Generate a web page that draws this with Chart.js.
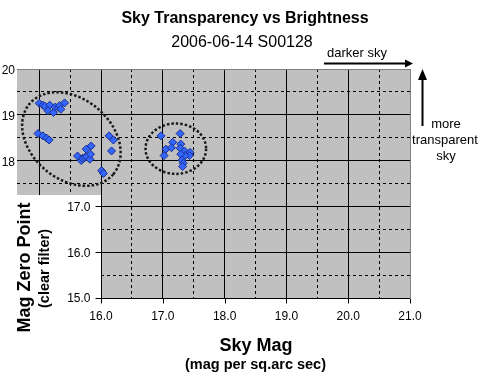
<!DOCTYPE html>
<html>
<head>
<meta charset="utf-8">
<script src="https://cdn.jsdelivr.net/npm/chart.js@4"></script>
<style>
  body { margin: 0; background: #fff; }
  canvas { display: block; }
</style>
</head>
<body>
<canvas id="skyChart" width="490" height="392"></canvas>
<script>
// sky brightness (mag / sq arcsec) and zero point for each frame
const skyMag = [
  15.00, 15.06, 15.09, 15.17, 15.14, 15.23, 15.26, 15.31, 15.33, 15.35, 15.41,
  14.98, 15.06, 15.12, 15.16,
  15.62, 15.68, 15.70, 15.74, 15.76, 15.77, 15.82, 15.83, 15.84,
  16.01, 16.04,
  16.13, 16.20, 16.17,
  16.97, 17.28, 17.16, 17.05, 17.14, 17.29, 17.02, 17.28, 17.35, 17.44,
  17.43, 17.36, 17.29, 17.31, 17.33, 17.32
];
const zeroPoint = [
  19.25, 19.21, 19.19, 19.21, 19.09, 19.05, 19.17, 19.16, 19.20, 19.12, 19.26,
  18.59, 18.54, 18.49, 18.45,
  18.10, 18.00, 18.05, 18.07, 18.25, 18.09, 18.03, 18.14, 18.32,
  17.78, 17.72,
  18.54, 18.45, 18.21,
  18.54, 18.59, 18.40, 18.25, 18.28, 18.36, 18.11, 18.27, 18.21, 18.18,
  18.11, 18.11, 18.14, 18.01, 17.94, 17.87
];

const xMajor = [15, 16, 17, 18, 19, 20, 21];
const xMinor = [15.5, 16.5, 17.5, 18.5, 19.5, 20.5];
const yMajor = [15, 16, 17, 18, 19, 20];
const yMinor = [15.5, 16.5, 17.5, 18.5, 19.5];
const xTickLabels = [16, 17, 18, 19, 20, 21];
const yTickLabels = [15, 16, 17];
const yInsetLabels = [18, 19, 20];

// dotted rings round the two groups: centre, radii (axis units), tilt (deg)
const rings = [
  { x: 15.52, y: 18.47, rx: 0.885, ry: 0.88, tilt: 40 },
  { x: 17.21, y: 18.26, rx: 0.49, ry: 0.55, tilt: 0 }
];

const xMin = 14.64, xMax = 21;
const yMin = 15, yMax = 20;
const insetBottom = 17.25;

const FONT = '"Liberation Sans", Arial, sans-serif';

function fixedTicks(values) {
  return (scale) => { scale.ticks = values.map((v) => ({ value: v })); };
}

function text(ctx, str, x, y, font, align) {
  ctx.font = font;
  ctx.textAlign = align || 'center';
  ctx.fillText(str, x, y);
}

const decor = {
  id: 'decor',
  beforeDraw(chart) {
    const { ctx, chartArea: a } = chart;
    ctx.save();
    ctx.fillStyle = '#c0c0c0';
    ctx.fillRect(a.left, a.top, a.right - a.left, a.bottom - a.top);
    ctx.restore();
  },
  beforeDatasetsDraw(chart) {
    const { ctx, chartArea: a, scales } = chart;
    const xs = scales.x, ys = scales.y;
    const x16 = Math.round(xs.getPixelForValue(16));
    const yIn = Math.round(ys.getPixelForValue(insetBottom));
    ctx.save();
    ctx.fillStyle = '#fff';
    ctx.fillRect(0, yIn, x16, a.bottom + 8 - yIn);

    const pxX = Math.abs(xs.getPixelForValue(1) - xs.getPixelForValue(0));
    const pxY = Math.abs(ys.getPixelForValue(1) - ys.getPixelForValue(0));
    ctx.strokeStyle = '#1a1a1a';
    ctx.lineWidth = 2.5;
    ctx.setLineDash([2.5, 2]);
    rings.forEach((r) => {
      ctx.beginPath();
      ctx.ellipse(xs.getPixelForValue(r.x), ys.getPixelForValue(r.y),
        r.rx * pxX, r.ry * pxY, r.tilt * Math.PI / 180, 0, Math.PI * 2);
      ctx.stroke();
    });
    ctx.restore();
  },
  afterDraw(chart) {
    const { ctx, chartArea: a, scales } = chart;
    const xs = scales.x, ys = scales.y;
    const x16 = Math.round(xs.getPixelForValue(16)) + 0.5;
    const yIn = Math.round(ys.getPixelForValue(insetBottom));
    const yBot = Math.round(a.bottom) + 0.5;

    ctx.save();
    ctx.strokeStyle = '#000';
    ctx.fillStyle = '#000';
    ctx.lineWidth = 1;
    ctx.beginPath();
    ctx.moveTo(x16, yIn);
    ctx.lineTo(x16, yBot);
    ctx.lineTo(Math.round(a.right), yBot);
    xTickLabels.forEach((v) => {
      const px = Math.round(xs.getPixelForValue(v)) + 0.5;
      ctx.moveTo(px, yBot);
      ctx.lineTo(px, yBot + 5);
    });
    yTickLabels.forEach((v) => {
      const py = Math.round(ys.getPixelForValue(v)) + 0.5;
      ctx.moveTo(x16, py);
      ctx.lineTo(x16 - 6, py);
    });
    ctx.stroke();

    ctx.textBaseline = 'middle';
    xTickLabels.forEach((v) => {
      text(ctx, v.toFixed(1), xs.getPixelForValue(v), a.bottom + 19, '12px ' + FONT);
    });
    yTickLabels.forEach((v) => {
      text(ctx, v.toFixed(1), x16 - 11, ys.getPixelForValue(v) + 1, '12px ' + FONT, 'right');
    });
    yInsetLabels.forEach((v) => {
      text(ctx, String(v), a.left - 2, ys.getPixelForValue(v) + 2, '12px ' + FONT, 'right');
    });

    ctx.textBaseline = 'alphabetic';
    text(ctx, 'Sky Transparency vs Brightness', 245, 23, 'bold 16px ' + FONT);
    text(ctx, '2006-06-14 S00128', 242, 47, '16px ' + FONT);
    text(ctx, 'Sky Mag', 256, 351, 'bold 18px ' + FONT);
    text(ctx, '(mag per sq.arc sec)', 255.5, 368.5, 'bold 14.5px ' + FONT);

    ctx.save();
    ctx.translate(30, 267.5);
    ctx.rotate(-Math.PI / 2);
    text(ctx, 'Mag Zero Point', 0, 0, 'bold 18px ' + FONT);
    ctx.restore();
    ctx.save();
    ctx.translate(49, 268.5);
    ctx.rotate(-Math.PI / 2);
    text(ctx, '(clear filter)', 0, 0, 'bold 14.5px ' + FONT);
    ctx.restore();

    // direction hints
    text(ctx, 'darker sky', 327, 57, '13px ' + FONT, 'left');
    text(ctx, 'more', 446, 128, '13px ' + FONT);
    text(ctx, 'transparent', 445, 144, '13px ' + FONT);
    text(ctx, 'sky', 446, 160, '13px ' + FONT);

    ctx.lineWidth = 2;
    ctx.beginPath();
    ctx.moveTo(324, 63.5);
    ctx.lineTo(406, 63.5);
    ctx.moveTo(422.5, 126);
    ctx.lineTo(422.5, 78);
    ctx.stroke();
    ctx.beginPath();
    ctx.moveTo(413, 63.5);
    ctx.lineTo(405, 59.5);
    ctx.lineTo(405, 67.5);
    ctx.closePath();
    ctx.moveTo(422.5, 69);
    ctx.lineTo(418, 80);
    ctx.lineTo(427, 80);
    ctx.closePath();
    ctx.fill();
    ctx.restore();
  }
};

const gridColor = (ctx, edge) => (ctx.tick && ctx.tick.value === edge ? '#808080' : '#000');

new Chart(document.getElementById('skyChart').getContext('2d'), {
  type: 'scatter',
  data: {
    datasets: [{
      label: 'Sky Mag vs Zero Point',
      data: skyMag.map((v, i) => ({ x: v, y: zeroPoint[i] })),
      pointStyle: 'rectRot',
      pointRadius: 4,
      backgroundColor: '#3366ff',
      borderColor: '#1c2f8c',
      borderWidth: 1,
      clip: false
    }]
  },
  options: {
    responsive: false,
    animation: false,
    layout: { padding: { left: 17, top: 69, right: 80, bottom: 94 } },
    plugins: { legend: { display: false }, tooltip: { enabled: false } },
    scales: {
      x: {
        type: 'linear', min: xMin, max: xMax,
        afterBuildTicks: fixedTicks(xMajor),
        ticks: { display: false },
        border: { display: false },
        grid: { drawTicks: false, lineWidth: 1, color: (c) => gridColor(c, 21) }
      },
      xh: {
        type: 'linear', min: xMin, max: xMax, position: 'bottom',
        afterBuildTicks: fixedTicks(xMinor),
        ticks: { display: false },
        border: { display: false, dash: [3, 3] },
        grid: { drawTicks: false, lineWidth: 1, color: '#000' }
      },
      y: {
        type: 'linear', min: yMin, max: yMax,
        afterBuildTicks: fixedTicks(yMajor),
        ticks: { display: false },
        border: { display: false },
        grid: { drawTicks: false, lineWidth: 1, color: (c) => gridColor(c, 20) }
      },
      yh: {
        type: 'linear', min: yMin, max: yMax, position: 'left',
        afterBuildTicks: fixedTicks(yMinor),
        ticks: { display: false },
        border: { display: false, dash: [3, 3] },
        grid: { drawTicks: false, lineWidth: 1, color: '#000' }
      }
    }
  },
  plugins: [decor]
});
</script>
</body>
</html>
